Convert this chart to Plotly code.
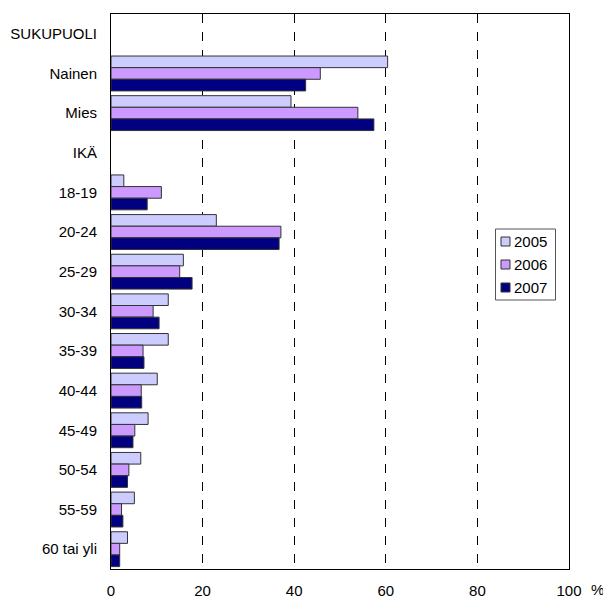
import plotly.graph_objects as go

# Row labels, top to bottom (section headers carry no bars)
categories = ["SUKUPUOLI", "Nainen", "Mies", "IKÄ",
              "18-19", "20-24", "25-29", "30-34", "35-39",
              "40-44", "45-49", "50-54", "55-59", "60 tai yli"]

# Shares (%) per year
v2005 = [None, 60.4, 39.3, None, 2.8, 23.0, 15.8, 12.5, 12.5, 10.1, 8.1, 6.5, 5.1, 3.6]
v2006 = [None, 45.7, 53.9, None, 11.0, 37.1, 15.0, 9.2, 7.0, 6.6, 5.2, 3.9, 2.3, 1.9]
v2007 = [None, 42.5, 57.4, None, 7.9, 36.7, 17.7, 10.5, 7.2, 6.7, 4.8, 3.6, 2.6, 1.9]

years = ["2005", "2006", "2007"]
series = [v2005, v2006, v2007]
colors = ["#CCCCFF", "#CC99FF", "#000080"]

x_ticks = [0, 20, 40, 60, 80, 100]
x_ticktext = ["0", "20", "40", "60", "80", "100"]

FONT = "Liberation Sans, Arial, sans-serif"
W, H = 603, 598
ML, MR, MT, MB = 111, 34, 14, 29
PW, PH = W - ML - MR, H - MT - MB


def px_x(p):
    return (p - ML) / PW


def px_y(p):
    return (H - MB - p) / PH


fig = go.Figure()
for name, vals, col in zip(years, series, colors):
    fig.add_trace(go.Bar(
        y=categories, x=vals, name=name, orientation="h",
        marker=dict(color=col, line=dict(color="#333333", width=1)),
        showlegend=False,
    ))

# Compact boxed legend
shapes = [dict(type="rect", xref="paper", yref="paper",
               x0=px_x(495.5), x1=px_x(555.5), y0=px_y(300), y1=px_y(229),
               fillcolor="white", line=dict(color="#555555", width=1))]
annotations = []
for i, (name, col) in enumerate(zip(years, colors)):
    cy = 241.5 + i * 23
    shapes.append(dict(type="rect", xref="paper", yref="paper",
                       x0=px_x(501), x1=px_x(510), y0=px_y(cy + 4.5), y1=px_y(cy - 4.5),
                       fillcolor=col, line=dict(color="#333333", width=1)))
    annotations.append(dict(text=name, xref="paper", yref="paper",
                            x=px_x(511.5), y=px_y(cy), xanchor="left", yanchor="middle",
                            showarrow=False, font=dict(family=FONT, size=15)))

annotations.append(dict(
    text="%", xref="paper", yref="paper", x=1.0, y=0,
    xanchor="left", yanchor="top", xshift=20, yshift=-10,
    showarrow=False, font=dict(family=FONT, size=15),
))

fig.update_layout(
    width=W, height=H,
    margin=dict(l=ML, r=MR, t=MT, b=MB),
    barmode="group", bargap=0.12, bargroupgap=0,
    plot_bgcolor="white", paper_bgcolor="white",
    font=dict(family=FONT, size=15, color="black"),
    showlegend=False,
    xaxis=dict(
        range=[0, 100], tickvals=x_ticks, ticktext=x_ticktext,
        showgrid=True, gridcolor="black", griddash="dash", gridwidth=1,
        showline=True, linecolor="black", linewidth=1, mirror=True,
        ticks="outside", ticklen=8, tickcolor="rgba(0,0,0,0)",
        zeroline=False, fixedrange=True, automargin=False,
    ),
    yaxis=dict(
        categoryorder="array", categoryarray=categories,
        autorange="reversed",
        showline=True, linecolor="black", linewidth=1, mirror=True,
        ticks="outside", ticklen=10, tickcolor="rgba(0,0,0,0)",
        showgrid=False, fixedrange=True, automargin=False,
    ),
    shapes=shapes,
    annotations=annotations,
)

fig.write_html("out.html")
